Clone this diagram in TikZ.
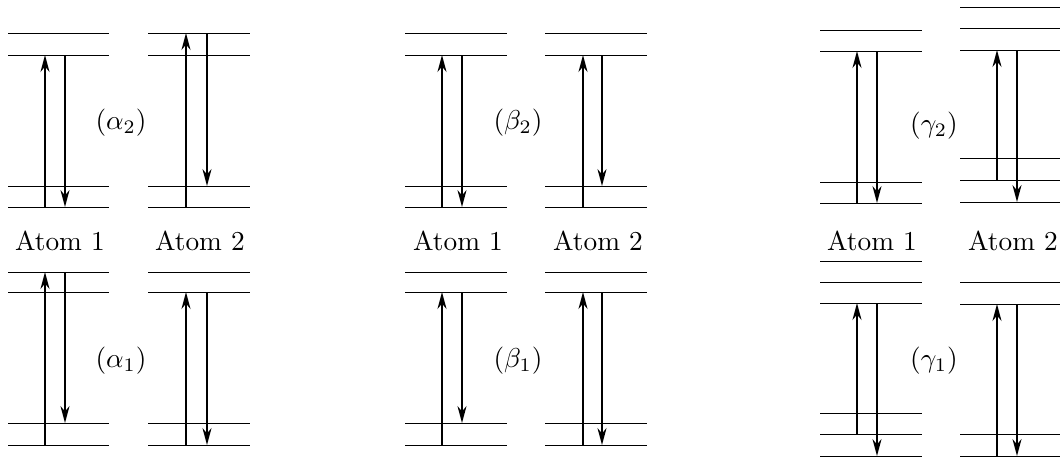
\documentclass[tikz,border=0pt]{standalone}
\usetikzlibrary{arrows.meta}
\begin{document}
\begin{tikzpicture}[x = 0.366pt, y = 0.366pt, yscale = -1,
  level/.style = {line width = 0.35pt},
  trans/.style = {line width = 0.7pt, -{Stealth[length=6.2pt, width=3.3pt, inset=2pt]}}]
\useasboundingbox (0,0) rectangle (1060,457);
% alpha
\foreach \y in {33,55,186,207,272,292,423,445}
{
  \draw[level] (8,\y) -- (109,\y);
  \draw[level] (148,\y) -- (250,\y);
}
\draw[trans] (45,207) -- (45,55);
\draw[trans] (65,55) -- (65,207);
\draw[trans] (186,207) -- (186,33);
\draw[trans] (207,33) -- (207,186);
\draw[trans] (45,445) -- (45,272);
\draw[trans] (65,272) -- (65,423);
\draw[trans] (186,445) -- (186,292);
\draw[trans] (207,292) -- (207,445);
\node (alphaTwo) at (121,123) {$(\alpha_2)$};
\node (alphaOne) at (121,361) {$(\alpha_1)$};
\node (alphaAtomA) at (60,241) {Atom 1};
\node (alphaAtomB) at (200,241) {Atom 2};
% beta
\foreach \y in {33,55,186,207,272,292,423,445}
{
  \draw[level] (405,\y) -- (507,\y);
  \draw[level] (545,\y) -- (647,\y);
}
\draw[trans] (442,207) -- (442,55);
\draw[trans] (462,55) -- (462,207);
\draw[trans] (583,207) -- (583,55);
\draw[trans] (602,55) -- (602,186);
\draw[trans] (442,445) -- (442,292);
\draw[trans] (462,292) -- (462,423);
\draw[trans] (583,445) -- (583,292);
\draw[trans] (602,292) -- (602,445);
\node (betaTwo) at (518,123) {$(\beta_2)$};
\node (betaOne) at (518,361) {$(\beta_1)$};
\node (betaAtomA) at (458,241) {Atom 1};
\node (betaAtomB) at (598,241) {Atom 2};
% gamma
\foreach \y in {30,51,182,203,261,282,303,413,434,456}
  \draw[level] (820,\y) -- (922,\y);
\foreach \y in {7,28,50,158,180,202,282,304,434,456}
  \draw[level] (960,\y) -- (1062,\y);
\draw[trans] (857,203) -- (857,51);
\draw[trans] (877,51) -- (877,203);
\draw[trans] (997,180) -- (997,50);
\draw[trans] (1017,50) -- (1017,202);
\draw[trans] (857,434) -- (857,303);
\draw[trans] (877,303) -- (877,456);
\draw[trans] (997,456) -- (997,304);
\draw[trans] (1017,304) -- (1017,456);
\node (gammaTwo) at (934,126) {$(\gamma_2)$};
\node (gammaOne) at (934,361) {$(\gamma_1)$};
\node (gammaAtomA) at (872,241) {Atom 1};
\node (gammaAtomB) at (1013,241) {Atom 2};
\end{tikzpicture}
\end{document}
